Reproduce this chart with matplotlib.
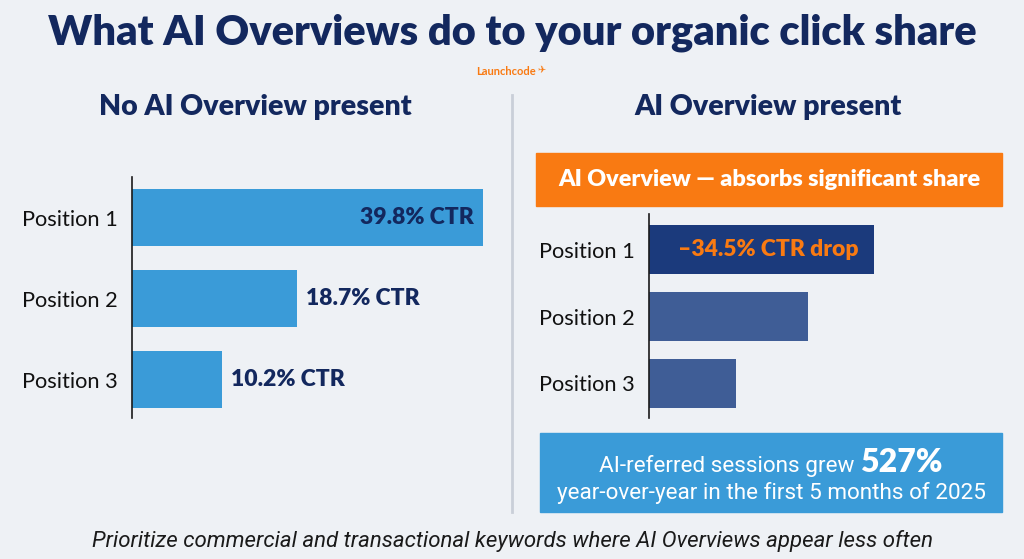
import matplotlib
matplotlib.use("Agg")
import matplotlib.pyplot as plt
from matplotlib.patches import Rectangle

# data
positions = ["Position 1", "Position 2", "Position 3"]
ctr_no_aio = [39.8, 18.7, 10.2]
ctr_labels = ["39.8% CTR", "18.7% CTR", "10.2% CTR"]
ctr_with_aio = [25.5, 18.0, 9.9]   # no labels
drop_label = "\u201334.5% CTR drop"

title = "What AI Overviews do to your organic click share"
left_title = "No AI Overview present"
right_title = "AI Overview present"
banner = "AI Overview \u2014 absorbs significant share"
stat_a = "AI-referred sessions grew "
stat_b = "527%"
stat_c = "year-over-year in the first 5 months of 2025"
footer = "Prioritize commercial and transactional keywords where AI Overviews appear less often"

NAVY = "#13285e"
BLUE = "#3a9bd8"
DARK = "#1b3a7c"
MID = "#3f5d96"
ORANGE = "#f97a12"
BG = "#eef1f5"

W, H = 1024, 559
fig = plt.figure(figsize=(W / 100, H / 100), dpi=100)
fig.patch.set_facecolor(BG)
plt.rcParams['font.family'] = ['Lato', 'DejaVu Sans']

def fx(px):
    return px / W

def fy(py):
    return 1 - py / H

def box(x0, y0, x1, y1):
    return [fx(x0), fy(y1), fx(x1) - fx(x0), fy(y0) - fy(y1)]

# header
fig.text(fx(512), fy(33), title, ha="center", va="center", fontsize=30,
         fontweight="heavy", color=NAVY)
fig.text(fx(506), fy(71), "Launchcode", ha="center", va="center", fontsize=8,
         color=ORANGE, fontweight="bold")
fig.text(fx(541), fy(70), "\u2708", ha="center", va="center", fontsize=7,
         color=ORANGE, family=["DejaVu Sans"])
fig.text(fx(255), fy(107), left_title, ha="center", va="center", fontsize=20.5,
         fontweight="heavy", color=NAVY)
fig.text(fx(768), fy(107), right_title, ha="center", va="center", fontsize=20.5,
         fontweight="heavy", color=NAVY)

# divider
fig.add_artist(plt.Line2D([fx(512), fx(512)], [fy(95), fy(512)], color="#c9cfd8",
                          lw=2))

# left chart
axl = fig.add_axes(box(132, 177, 483, 418))
axl.barh(range(3), ctr_no_aio, height=0.70, color=BLUE)
axl.set_xlim(0, 39.8)
axl.set_ylim(2.475, -0.5)
for i, (v, lab) in enumerate(zip(ctr_no_aio, ctr_labels)):
    if i == 0:
        axl.text(v - 1.0, i, lab, ha="right", va="center", fontsize=16.5,
                 fontweight="heavy", color=NAVY)
    else:
        axl.text(v + 1.0, i, lab, ha="left", va="center", fontsize=16.5,
                 fontweight="heavy", color=NAVY)

# right chart
axr = fig.add_axes(box(649, 214, 1000, 418))
axr.barh(range(3), ctr_with_aio, height=0.73, color=[DARK, MID, MID])
axr.set_xlim(0, 39.8)
axr.set_ylim(2.515, -0.53)
axr.text(ctr_with_aio[0] / 2 + 0.8, 0, drop_label, ha="center", va="center",
         fontsize=16.5, fontweight="heavy", color=ORANGE)

for ax in (axl, axr):
    ax.set_facecolor("none")
    for s in ("top", "right", "bottom"):
        ax.spines[s].set_visible(False)
    ax.spines["left"].set_color("#1a1a1a")
    ax.spines["left"].set_linewidth(1.2)
    ax.set_xticks([])
    ax.set_yticks(range(3))
    ax.set_yticklabels(positions, fontsize=15.7, color="#111111")
    ax.tick_params(axis="y", length=0, pad=10.5)

# orange banner
fig.add_artist(Rectangle((fx(536), fy(206)), fx(1002) - fx(536), fy(153) - fy(206),
                         transform=fig.transFigure, color=ORANGE))
fig.text(fx(769), fy(180), banner, ha="center", va="center", fontsize=16.8,
         fontweight="heavy", color="white")

# stat box
fig.add_artist(Rectangle((fx(540), fy(512)), fx(1002) - fx(540), fy(433) - fy(512),
                         transform=fig.transFigure, color=BLUE))
ta = fig.text(0, fy(472), stat_a, ha="left", va="baseline", fontsize=16.2,
              color="white", family=["Roboto", "DejaVu Sans"])
tb = fig.text(0, fy(472), stat_b, ha="left", va="baseline", fontsize=23,
              fontweight="heavy", color="white")
fig.canvas.draw()
r = fig.canvas.get_renderer()
wa = ta.get_window_extent(r).width
wb = tb.get_window_extent(r).width
x0 = 771 - (wa + wb) / 2
ta.set_x(fx(x0))
tb.set_x(fx(x0 + wa))
fig.text(fx(771), fy(499), stat_c, ha="center", va="baseline", fontsize=16.2,
         color="white", family=["Roboto", "DejaVu Sans"])

# footer
fig.text(fx(512), fy(541), footer, ha="center", va="center", fontsize=16,
         style="italic", color="#1a1a1a", family=["Roboto", "DejaVu Sans"])

fig.savefig("out.png", dpi=100, facecolor=BG)
